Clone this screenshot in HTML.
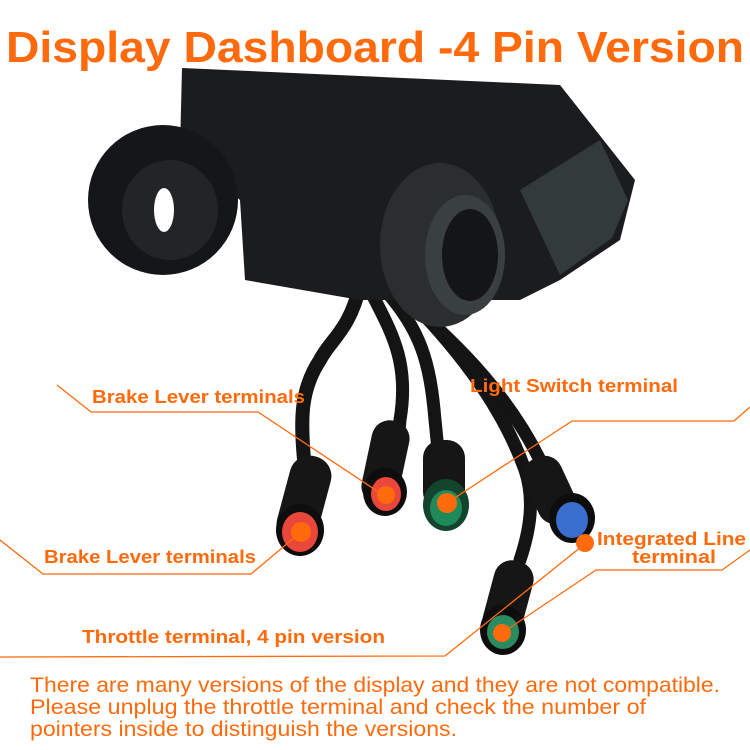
<!DOCTYPE html>
<html><head><meta charset="utf-8"><style>
html,body{margin:0;padding:0;background:#fff;width:750px;height:750px;overflow:hidden}
svg{display:block}
</style></head><body>
<svg width="750" height="750" viewBox="0 0 750 750" xmlns="http://www.w3.org/2000/svg">
<rect width="750" height="750" fill="#fff"/>
<text x="6" y="62" textLength="738" lengthAdjust="spacingAndGlyphs" font-family="Liberation Sans, sans-serif" font-weight="bold" font-size="44" fill="#ff6a0d">Display Dashboard -4 Pin Version</text>
<!-- cables -->
<g fill="none" stroke="#141414" stroke-linecap="round">
<path d="M360 285 C350 330 330 340 320 360 C300 390 300 420 305 470" stroke-width="14"/>
<path d="M370 290 C390 330 410 360 400 420 L395 470" stroke-width="13"/>
<path d="M385 290 C420 330 430 360 435 420 L440 470" stroke-width="13"/>
<path d="M395 290 C440 330 500 380 540 460" stroke-width="13"/>
<path d="M400 290 C450 340 500 400 525 470 C535 500 530 530 520 560" stroke-width="13"/>
</g>
<!-- device -->
<polygon points="182,68 560,85 635,180 620,240 560,280 520,300 360,300 245,280 240,200 180,150" fill="#1a1c1e"/>
<polygon points="520,190 600,140 628,200 612,238 560,275" fill="#333a3b"/>
<ellipse cx="163" cy="200" rx="75" ry="75" fill="#151617"/>
<ellipse cx="170" cy="210" rx="48" ry="50" fill="#222426"/>
<ellipse cx="164" cy="210" rx="10" ry="22" fill="#fff"/>
<ellipse cx="440" cy="245" rx="60" ry="82" fill="#2a2e2f"/>
<ellipse cx="465" cy="255" rx="40" ry="60" fill="#3a3f40"/>
<ellipse cx="470" cy="255" rx="28" ry="46" fill="#141516"/>
<!-- connectors -->
<g>
<rect x="283" y="455" width="42" height="90" rx="20" fill="#161616" transform="rotate(15 304 500)"/>
<ellipse cx="300" cy="530" rx="24" ry="26" fill="#0d0d0d"/>
<ellipse cx="300" cy="532" rx="18" ry="20" fill="#e8473a"/>
<rect x="367" y="420" width="38" height="85" rx="18" fill="#161616" transform="rotate(12 386 460)"/>
<ellipse cx="385" cy="492" rx="22" ry="24" fill="#0d0d0d"/>
<ellipse cx="386" cy="494" rx="15" ry="17" fill="#e8473a"/>
<rect x="423" y="440" width="42" height="70" rx="18" fill="#161616"/>
<ellipse cx="446" cy="505" rx="23" ry="26" fill="#13442e"/>
<ellipse cx="446" cy="508" rx="16" ry="18" fill="#1e8a5a"/>
<rect x="530" y="455" width="40" height="70" rx="18" fill="#161616" transform="rotate(-25 550 490)"/>
<ellipse cx="572" cy="518" rx="23" ry="25" fill="#0d0d0d"/>
<ellipse cx="572" cy="520" rx="16" ry="18" fill="#3a6fd0"/>
<rect x="488" y="560" width="40" height="80" rx="18" fill="#161616" transform="rotate(15 508 600)"/>
<ellipse cx="503" cy="630" rx="23" ry="25" fill="#0d0d0d"/>
<ellipse cx="503" cy="632" rx="16" ry="17" fill="#2a8a60"/>
</g>
<!-- leaders -->
<g fill="none" stroke="#ff6a0d" stroke-width="1.3">
<polyline points="57,385 91,412 258,412 383,495"/>
<polyline points="750,407 734,421 572,421 447,503"/>
<polyline points="0,540 43,574 251,574 301,532"/>
<polyline points="750,550 722,570 596,570 502,633"/>
<polyline points="0,657 445,656 586,543"/>
</g>
<g fill="#ff6a0d">
<circle cx="386" cy="495" r="9"/><circle cx="447" cy="503" r="10"/>
<circle cx="301" cy="532" r="10"/><circle cx="502" cy="633" r="9"/><circle cx="585" cy="543" r="9"/>
</g>
<g font-family="Liberation Sans, sans-serif" font-weight="bold" font-size="18" fill="#ff6a0d" lengthAdjust="spacingAndGlyphs">
<text x="92" y="403" textLength="213" lengthAdjust="spacingAndGlyphs">Brake Lever terminals</text>
<text x="470" y="392" textLength="208" lengthAdjust="spacingAndGlyphs">Light Switch terminal</text>
<text x="44" y="563" textLength="212" lengthAdjust="spacingAndGlyphs">Brake Lever terminals</text>
<text x="597" y="545" textLength="149" lengthAdjust="spacingAndGlyphs">Integrated Line</text>
<text x="632" y="563" textLength="84" lengthAdjust="spacingAndGlyphs">terminal</text>
<text x="82" y="643" textLength="303" lengthAdjust="spacingAndGlyphs">Throttle terminal, 4 pin version</text>
</g>
<g font-family="Liberation Sans, sans-serif" font-size="21" fill="#ff6a0d">
<text x="30" y="692" textLength="690" lengthAdjust="spacingAndGlyphs">There are many versions of the display and they are not compatible.</text>
<text x="30" y="714" textLength="616" lengthAdjust="spacingAndGlyphs">Please unplug the throttle terminal and check the number of</text>
<text x="30" y="736" textLength="427" lengthAdjust="spacingAndGlyphs">pointers inside to distinguish the versions.</text>
</g>
</svg>
</body></html>
